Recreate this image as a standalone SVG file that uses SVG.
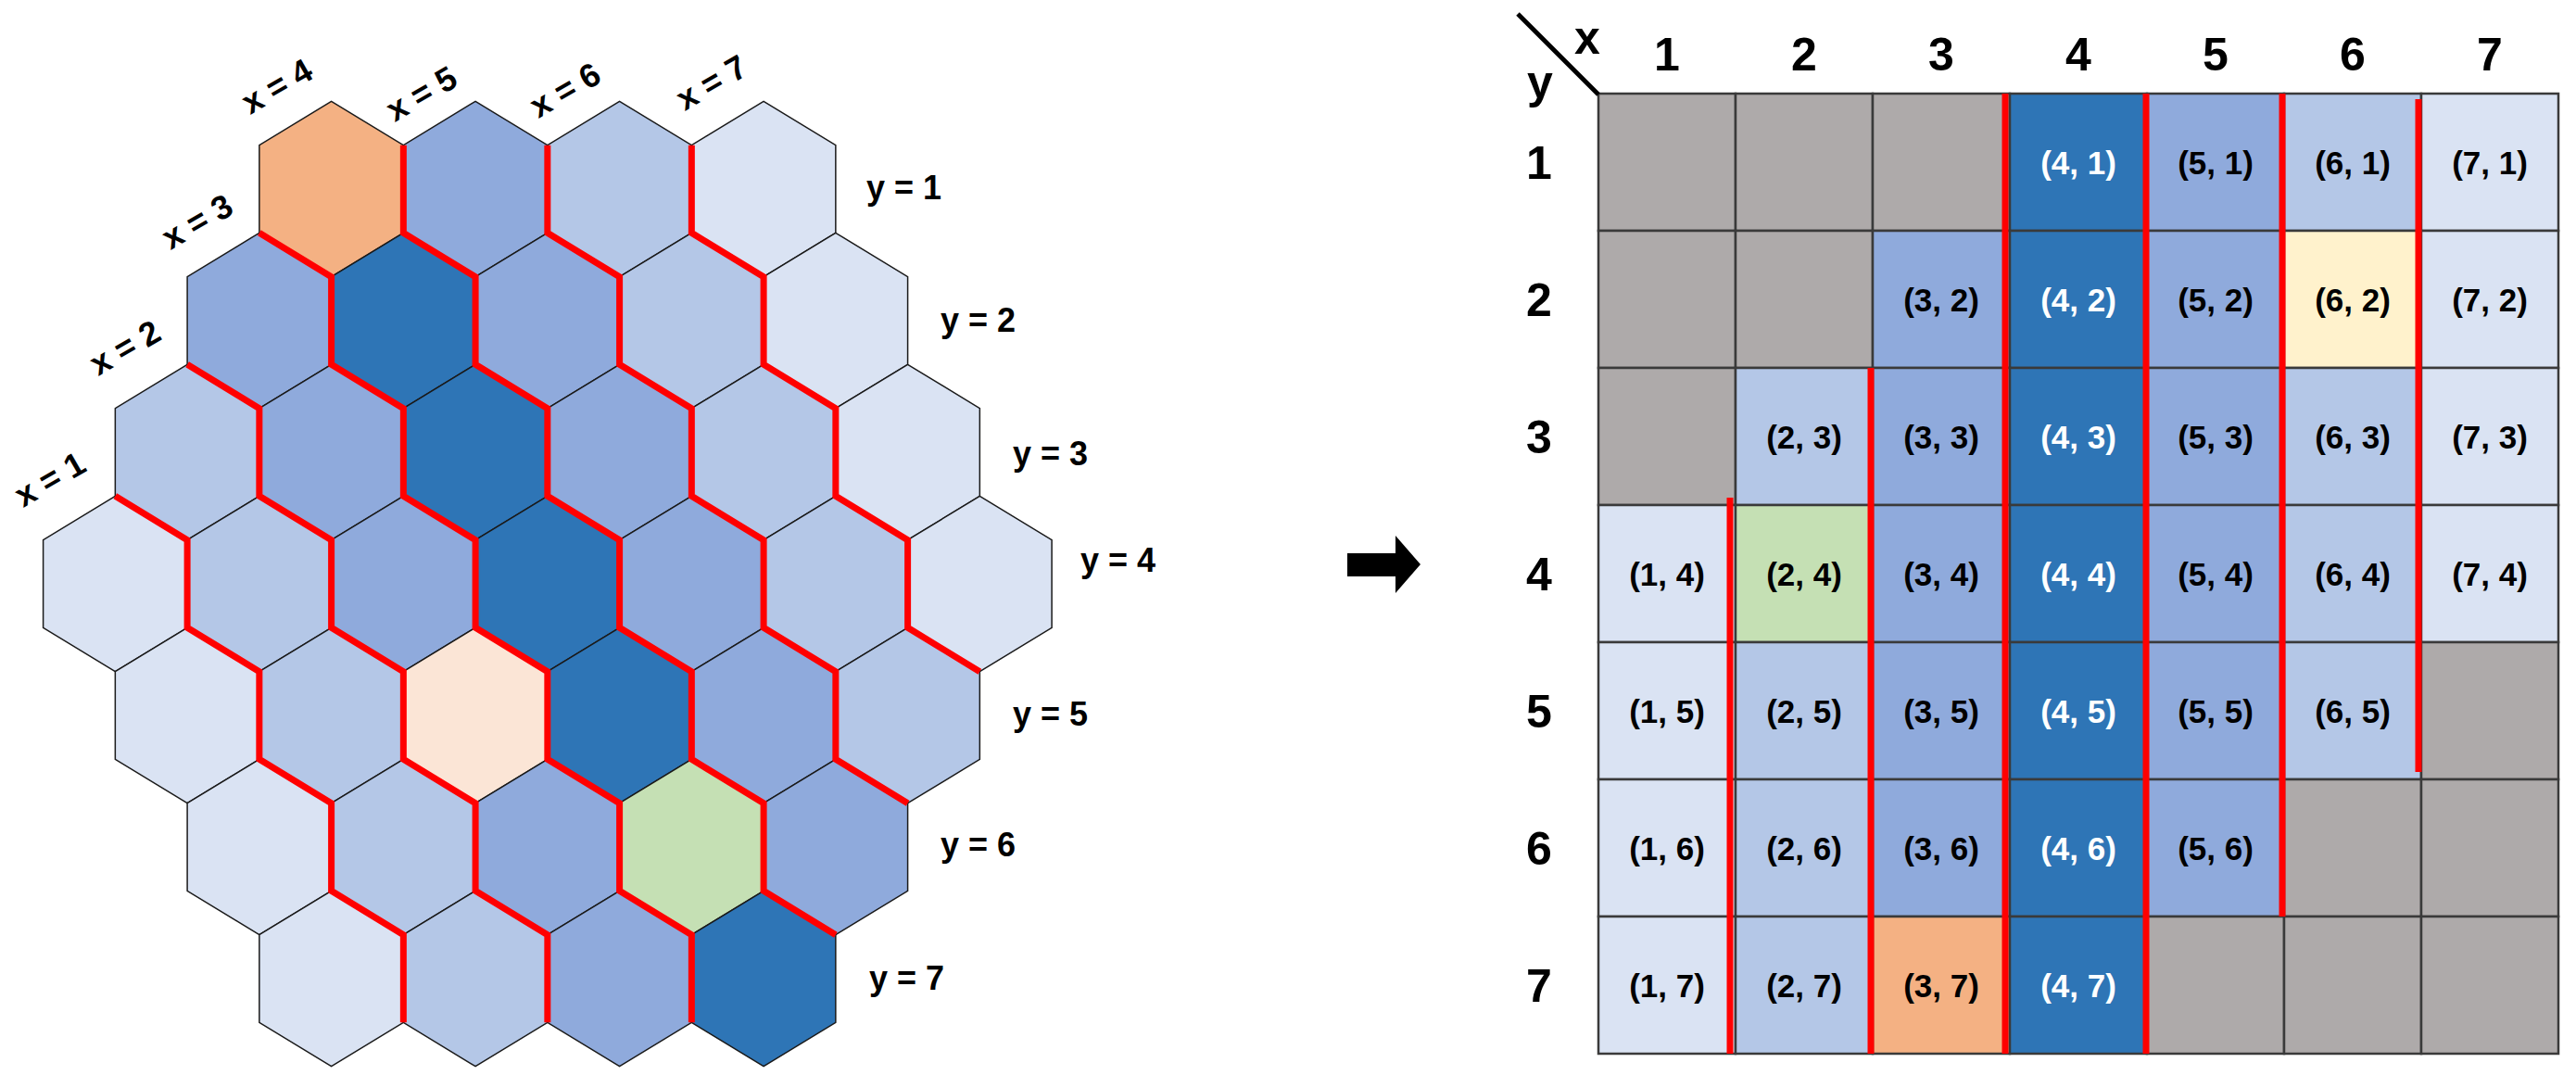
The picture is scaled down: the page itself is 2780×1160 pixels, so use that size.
<svg xmlns="http://www.w3.org/2000/svg" xmlns:xlink="http://www.w3.org/1999/xlink" width="2780" height="1160" viewBox="0 0 2780 1160">
<style>
.hx{stroke:#1a1a1a;stroke-width:1.5}
.red{fill:none;stroke:#FF0000;stroke-width:7;stroke-linejoin:miter}
.lbl{font-family:"Liberation Sans",Arial,sans-serif;font-weight:bold;font-size:36px;fill:#000}
.c{stroke:#3a3a3a;stroke-width:2.5}
.t{font-family:"Liberation Sans",Arial,sans-serif;font-weight:bold;font-size:35px;text-anchor:middle;fill:#000}
.w{fill:#fff}
.h{font-family:"Liberation Sans",Arial,sans-serif;font-weight:bold;font-size:50px;text-anchor:middle;fill:#000}
.g{fill:#AEAAAA}.a{fill:#DAE3F3}.b{fill:#B4C7E7}.m{fill:#8FAADC}.d{fill:#2E75B6}
</style>
<defs>
<polygon id="hex" points="0,-94.7 77.75,-47.35 77.75,47.35 0,94.7 -77.75,47.35 -77.75,-47.35"/>
</defs>
<rect width="2780" height="1160" fill="#fff"/>
<g id="hexgrid">
<use href="#hex" class="hx" x="357.6" y="204" fill="#F4B183"/>
<use href="#hex" class="hx" x="513.1" y="204" fill="#8FAADC"/>
<use href="#hex" class="hx" x="668.6" y="204" fill="#B4C7E7"/>
<use href="#hex" class="hx" x="824.1" y="204" fill="#DAE3F3"/>
<use href="#hex" class="hx" x="279.85" y="346" fill="#8FAADC"/>
<use href="#hex" class="hx" x="435.35" y="346" fill="#2E75B6"/>
<use href="#hex" class="hx" x="590.85" y="346" fill="#8FAADC"/>
<use href="#hex" class="hx" x="746.35" y="346" fill="#B4C7E7"/>
<use href="#hex" class="hx" x="901.85" y="346" fill="#DAE3F3"/>
<use href="#hex" class="hx" x="202.1" y="488" fill="#B4C7E7"/>
<use href="#hex" class="hx" x="357.6" y="488" fill="#8FAADC"/>
<use href="#hex" class="hx" x="513.1" y="488" fill="#2E75B6"/>
<use href="#hex" class="hx" x="668.6" y="488" fill="#8FAADC"/>
<use href="#hex" class="hx" x="824.1" y="488" fill="#B4C7E7"/>
<use href="#hex" class="hx" x="979.6" y="488" fill="#DAE3F3"/>
<use href="#hex" class="hx" x="124.35" y="630" fill="#DAE3F3"/>
<use href="#hex" class="hx" x="279.85" y="630" fill="#B4C7E7"/>
<use href="#hex" class="hx" x="435.35" y="630" fill="#8FAADC"/>
<use href="#hex" class="hx" x="590.85" y="630" fill="#2E75B6"/>
<use href="#hex" class="hx" x="746.35" y="630" fill="#8FAADC"/>
<use href="#hex" class="hx" x="901.85" y="630" fill="#B4C7E7"/>
<use href="#hex" class="hx" x="1057.35" y="630" fill="#DAE3F3"/>
<use href="#hex" class="hx" x="202.1" y="772" fill="#DAE3F3"/>
<use href="#hex" class="hx" x="357.6" y="772" fill="#B4C7E7"/>
<use href="#hex" class="hx" x="513.1" y="772" fill="#FBE5D6"/>
<use href="#hex" class="hx" x="668.6" y="772" fill="#2E75B6"/>
<use href="#hex" class="hx" x="824.1" y="772" fill="#8FAADC"/>
<use href="#hex" class="hx" x="979.6" y="772" fill="#B4C7E7"/>
<use href="#hex" class="hx" x="279.85" y="914" fill="#DAE3F3"/>
<use href="#hex" class="hx" x="435.35" y="914" fill="#B4C7E7"/>
<use href="#hex" class="hx" x="590.85" y="914" fill="#8FAADC"/>
<use href="#hex" class="hx" x="746.35" y="914" fill="#C5E0B4"/>
<use href="#hex" class="hx" x="901.85" y="914" fill="#8FAADC"/>
<use href="#hex" class="hx" x="357.6" y="1056" fill="#DAE3F3"/>
<use href="#hex" class="hx" x="513.1" y="1056" fill="#B4C7E7"/>
<use href="#hex" class="hx" x="668.6" y="1056" fill="#8FAADC"/>
<use href="#hex" class="hx" x="824.1" y="1056" fill="#2E75B6"/>
</g>
<g id="hex-boundaries">
<polyline class="red" points="124.35,535.35 202.1,582.7 202.1,677.35 279.85,724.7 279.85,819.35 357.6,866.7 357.6,961.35 435.35,1008.7 435.35,1103.35"/>
<polyline class="red" points="202.1,393.35 279.85,440.7 279.85,535.35 357.6,582.7 357.6,677.35 435.35,724.7 435.35,819.35 513.1,866.7 513.1,961.35 590.85,1008.7 590.85,1103.35"/>
<polyline class="red" points="279.85,251.35 357.6,298.7 357.6,393.35 435.35,440.7 435.35,535.35 513.1,582.7 513.1,677.35 590.85,724.7 590.85,819.35 668.6,866.7 668.6,961.35 746.35,1008.7 746.35,1103.35"/>
<polyline class="red" points="435.35,156.65 435.35,251.35 513.1,298.7 513.1,393.35 590.85,440.7 590.85,535.35 668.6,582.7 668.6,677.35 746.35,724.7 746.35,819.35 824.1,866.7 824.1,961.35 901.85,1008.7"/>
<polyline class="red" points="590.85,156.65 590.85,251.35 668.6,298.7 668.6,393.35 746.35,440.7 746.35,535.35 824.1,582.7 824.1,677.35 901.85,724.7 901.85,819.35 979.6,866.7"/>
<polyline class="red" points="746.35,156.65 746.35,251.35 824.1,298.7 824.1,393.35 901.85,440.7 901.85,535.35 979.6,582.7 979.6,677.35 1057.35,724.7"/>
</g>
<g id="hex-labels">
<text class="lbl" transform="translate(270,124) rotate(-30)">x = 4</text>
<text class="lbl" transform="translate(426,132) rotate(-30)">x = 5</text>
<text class="lbl" transform="translate(581,128) rotate(-30)">x = 6</text>
<text class="lbl" transform="translate(739,120) rotate(-30)">x = 7</text>
<text class="lbl" transform="translate(184,270) rotate(-30)">x = 3</text>
<text class="lbl" transform="translate(106,406) rotate(-30)">x = 2</text>
<text class="lbl" transform="translate(25,548) rotate(-30)">x = 1</text>
<text class="lbl" x="935" y="215">y = 1</text>
<text class="lbl" x="1015" y="358">y = 2</text>
<text class="lbl" x="1093" y="502">y = 3</text>
<text class="lbl" x="1166" y="617">y = 4</text>
<text class="lbl" x="1093" y="783">y = 5</text>
<text class="lbl" x="1015" y="924">y = 6</text>
<text class="lbl" x="938" y="1068">y = 7</text>
</g>
<g id="arrow">
<polygon points="1454,597 1506,597 1506,578 1533,609 1506,640 1506,622 1454,622" fill="#000"/>
</g>
<g id="table">
<rect class="c g" x="1725" y="101" width="148" height="148"/><rect class="c g" x="1873" y="101" width="148" height="148"/><rect class="c g" x="2021" y="101" width="148" height="148"/><rect class="c d" x="2169" y="101" width="148" height="148"/><rect class="c m" x="2317" y="101" width="148" height="148"/><rect class="c b" x="2465" y="101" width="148" height="148"/><rect class="c a" x="2613" y="101" width="148" height="148"/>
<rect class="c g" x="1725" y="249" width="148" height="148"/><rect class="c g" x="1873" y="249" width="148" height="148"/><rect class="c m" x="2021" y="249" width="148" height="148"/><rect class="c d" x="2169" y="249" width="148" height="148"/><rect class="c m" x="2317" y="249" width="148" height="148"/><rect class="c" fill="#FFF2CC" x="2465" y="249" width="148" height="148"/><rect class="c a" x="2613" y="249" width="148" height="148"/>
<rect class="c g" x="1725" y="397" width="148" height="148"/><rect class="c b" x="1873" y="397" width="148" height="148"/><rect class="c m" x="2021" y="397" width="148" height="148"/><rect class="c d" x="2169" y="397" width="148" height="148"/><rect class="c m" x="2317" y="397" width="148" height="148"/><rect class="c b" x="2465" y="397" width="148" height="148"/><rect class="c a" x="2613" y="397" width="148" height="148"/>
<rect class="c a" x="1725" y="545" width="148" height="148"/><rect class="c" fill="#C5E0B4" x="1873" y="545" width="148" height="148"/><rect class="c m" x="2021" y="545" width="148" height="148"/><rect class="c d" x="2169" y="545" width="148" height="148"/><rect class="c m" x="2317" y="545" width="148" height="148"/><rect class="c b" x="2465" y="545" width="148" height="148"/><rect class="c a" x="2613" y="545" width="148" height="148"/>
<rect class="c a" x="1725" y="693" width="148" height="148"/><rect class="c b" x="1873" y="693" width="148" height="148"/><rect class="c m" x="2021" y="693" width="148" height="148"/><rect class="c d" x="2169" y="693" width="148" height="148"/><rect class="c m" x="2317" y="693" width="148" height="148"/><rect class="c b" x="2465" y="693" width="148" height="148"/><rect class="c g" x="2613" y="693" width="148" height="148"/>
<rect class="c a" x="1725" y="841" width="148" height="148"/><rect class="c b" x="1873" y="841" width="148" height="148"/><rect class="c m" x="2021" y="841" width="148" height="148"/><rect class="c d" x="2169" y="841" width="148" height="148"/><rect class="c m" x="2317" y="841" width="148" height="148"/><rect class="c g" x="2465" y="841" width="148" height="148"/><rect class="c g" x="2613" y="841" width="148" height="148"/>
<rect class="c a" x="1725" y="989" width="148" height="148"/><rect class="c b" x="1873" y="989" width="148" height="148"/><rect class="c" fill="#F4B183" x="2021" y="989" width="148" height="148"/><rect class="c d" x="2169" y="989" width="148" height="148"/><rect class="c g" x="2317" y="989" width="148" height="148"/><rect class="c g" x="2465" y="989" width="148" height="148"/><rect class="c g" x="2613" y="989" width="148" height="148"/>
</g>
<g id="table-boundaries">
<line class="red" x1="1867" y1="537" x2="1867" y2="1137"/>
<line class="red" x1="2019" y1="397" x2="2019" y2="1137"/>
<line class="red" x1="2164" y1="101" x2="2164" y2="1137"/>
<line class="red" x1="2316" y1="101" x2="2316" y2="1137"/>
<line class="red" x1="2463" y1="101" x2="2463" y2="989"/>
<line class="red" x1="2610" y1="107" x2="2610" y2="833"/>
</g>
<g id="table-text">
<line x1="1638" y1="15" x2="1725" y2="102" stroke="#000" stroke-width="5"/>
<text class="h" x="1713" y="58" font-size="44">x</text>
<text class="h" x="1662" y="106" font-size="44">y</text>
<text class="h" x="1799" y="76">1</text><text class="h" x="1947" y="76">2</text><text class="h" x="2095" y="76">3</text><text class="h" x="2243" y="76">4</text><text class="h" x="2391" y="76">5</text><text class="h" x="2539" y="76">6</text><text class="h" x="2687" y="76">7</text>
<text class="h" x="1661" y="193">1</text><text class="h" x="1661" y="341">2</text><text class="h" x="1661" y="489">3</text><text class="h" x="1661" y="637">4</text><text class="h" x="1661" y="785">5</text><text class="h" x="1661" y="933">6</text><text class="h" x="1661" y="1081">7</text>
<text class="t w" x="2243" y="188">(4, 1)</text><text class="t" x="2391" y="188">(5, 1)</text><text class="t" x="2539" y="188">(6, 1)</text><text class="t" x="2687" y="188">(7, 1)</text>
<text class="t" x="2095" y="336">(3, 2)</text><text class="t w" x="2243" y="336">(4, 2)</text><text class="t" x="2391" y="336">(5, 2)</text><text class="t" x="2539" y="336">(6, 2)</text><text class="t" x="2687" y="336">(7, 2)</text>
<text class="t" x="1947" y="484">(2, 3)</text><text class="t" x="2095" y="484">(3, 3)</text><text class="t w" x="2243" y="484">(4, 3)</text><text class="t" x="2391" y="484">(5, 3)</text><text class="t" x="2539" y="484">(6, 3)</text><text class="t" x="2687" y="484">(7, 3)</text>
<text class="t" x="1799" y="632">(1, 4)</text><text class="t" x="1947" y="632">(2, 4)</text><text class="t" x="2095" y="632">(3, 4)</text><text class="t w" x="2243" y="632">(4, 4)</text><text class="t" x="2391" y="632">(5, 4)</text><text class="t" x="2539" y="632">(6, 4)</text><text class="t" x="2687" y="632">(7, 4)</text>
<text class="t" x="1799" y="780">(1, 5)</text><text class="t" x="1947" y="780">(2, 5)</text><text class="t" x="2095" y="780">(3, 5)</text><text class="t w" x="2243" y="780">(4, 5)</text><text class="t" x="2391" y="780">(5, 5)</text><text class="t" x="2539" y="780">(6, 5)</text>
<text class="t" x="1799" y="928">(1, 6)</text><text class="t" x="1947" y="928">(2, 6)</text><text class="t" x="2095" y="928">(3, 6)</text><text class="t w" x="2243" y="928">(4, 6)</text><text class="t" x="2391" y="928">(5, 6)</text>
<text class="t" x="1799" y="1076">(1, 7)</text><text class="t" x="1947" y="1076">(2, 7)</text><text class="t" x="2095" y="1076">(3, 7)</text><text class="t w" x="2243" y="1076">(4, 7)</text>
</g>
</svg>
